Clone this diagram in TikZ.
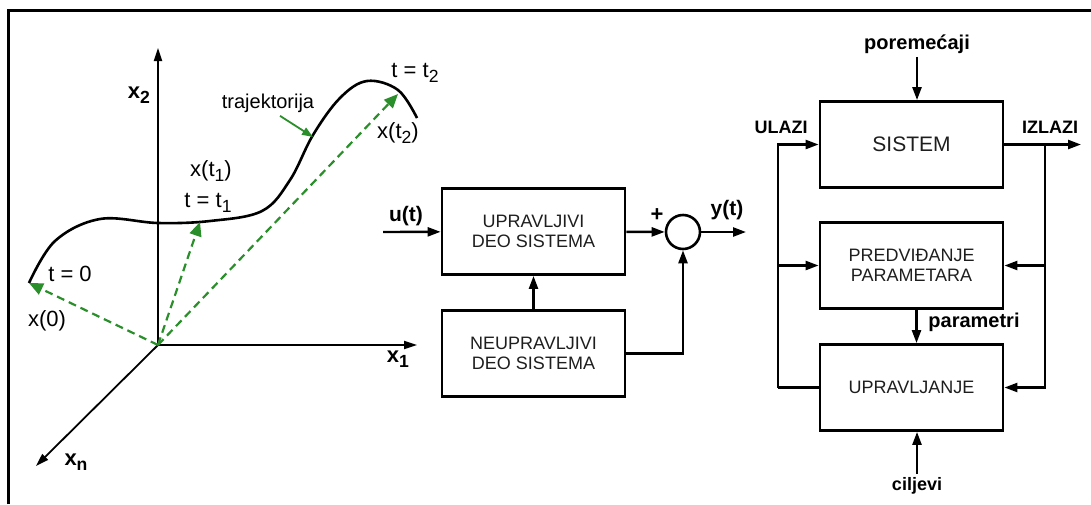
\documentclass[tikz,border=0pt]{standalone}
\usepackage{fontspec}
\usepackage{graphicx}
\setmainfont{Liberation Sans}
\usetikzlibrary{arrows.meta,positioning}
\definecolor{greenc}{HTML}{2A8F2A}
\definecolor{boxtext}{HTML}{1E1E1E}
\newcommand\indeks[1]{\raisebox{-0.45ex}{\scalebox{0.8}{#1}}}

\begin{document}
\begin{tikzpicture}[x=1pt,y=-1pt,
  blok/.style={draw, line width=2.8pt, minimum width=183pt, minimum height=86pt, inner sep=0pt,
    align=center, text=boxtext, font=\fontsize{18}{20}\selectfont},
  veza/.style={line width=2.4pt, -{Triangle[length=13pt,width=9pt]}},
  linija/.style={line width=2.4pt},
  osa/.style={line width=1.8pt, -{Triangle[length=13pt,width=8pt]}},
  oznaka/.style={font=\bfseries\fontsize{18}{20}\selectfont},
  osaoznaka/.style={font=\bfseries\fontsize{22}{24}\selectfont},
  tekst/.style={font=\fontsize{22}{24}\selectfont},
  putanja/.style={greenc, line width=2.2pt, dash pattern=on 8pt off 5pt, -{Triangle[length=14pt,width=12pt]}}]
  \useasboundingbox (0,0) rectangle (1091,504);
  \draw[line width=3pt] (8,504) -- (8,10) -- (1091,10);

  % prostor stanja
  \coordinate (O) at (158,345);
  \coordinate (e2) at (158,48);
  \coordinate (e1) at (417,345);
  \coordinate (en) at (36,466);
  \draw[osa] (O) -- (e2);
  \draw[osa] (O) -- (e1);
  \draw[osa] (O) -- (en);
  \node[osaoznaka] (x2) at (139,95) {x\indeks{2}};
  \node[osaoznaka] (x1) at (398,359) {x\indeks{1}};
  \node[osaoznaka] (xn) at (76,462) {x\indeks{n}};
  \draw[line width=2.6pt] plot[smooth, tension=0.6] coordinates {(29,283) (55,241) (100,219) (158,223)
    (210,221) (262,211) (290,180) (313,135) (340,98) (367,81) (398,90) (417,118)};
  \coordinate (p0) at (29,283);
  \coordinate (p1) at (200,222);
  \coordinate (p2) at (398,94);
  \draw[putanja] (O) -- (p0);
  \draw[putanja] (O) -- (p1);
  \draw[putanja] (O) -- (p2);
  \node[tekst] (t0) at (70,274) {t = 0};
  \node[tekst] (s0) at (47,321) {x(0)};
  \node[tekst] (s1) at (211,171) {x(t\indeks{1})};
  \node[tekst] (t1) at (208,203) {t = t\indeks{1}};
  \node[tekst] (t2) at (415,73) {t = t\indeks{2}};
  \node[tekst] (s2) at (398,133) {x(t\indeks{2})};
  \node[font=\fontsize{20}{22}\selectfont] (traj) at (268,103) {trajektorija};
  \coordinate (tc) at (313,137);
  \draw[greenc, line width=1.8pt, -{Triangle[length=11pt,width=8pt]}] ([xshift=12pt]traj.south) -- (tc);

  % upravljivi i neupravljivi deo
  \node[blok] (upr) at (533.5,231.5) {UPRAVLJIVI\\DEO SISTEMA};
  \node[blok] (neu) at (533.5,353.5) {NEUPRAVLJIVI\\DEO SISTEMA};
  \node[draw, circle, line width=2.6pt, minimum size=34pt, inner sep=0pt] (sum) at (683,232) {};
  \coordinate (uin) at (383,232);
  \coordinate (yout) at (746,232);
  \draw[veza] (uin) -- (upr);
  \draw[veza] (upr) -- (sum);
  \draw[veza] (sum) -- (yout);
  \draw[veza] (neu) -- (upr);
  \draw[veza] (neu.east) -| (sum.south);
  \node[oznaka, font=\bfseries\fontsize{21}{23}\selectfont] (u) at (406,216) {u(t)};
  \node[oznaka, font=\bfseries\fontsize{22}{24}\selectfont] (plus) at (657,215) {+};
  \node[oznaka, font=\bfseries\fontsize{21}{23}\selectfont] (y) at (727,210) {y(t)};

  % adaptivno upravljanje
  \node[blok, font=\fontsize{21}{23}\selectfont] (sys) at (911.5,144.5) {SISTEM};
  \node[blok] (pred) at (911.5,265.5) {PREDVIĐANJE\\PARAMETARA};
  \node[blok] (ctrl) at (911.5,387.5) {UPRAVLJANJE};
  \node[oznaka, font=\bfseries\fontsize{20}{22}\selectfont] (por) at (917,44) {poremećaji};
  \node[oznaka] (cilj) at (917,486) {ciljevi};
  \node[oznaka] (ul) at (781,127) {ULAZI};
  \node[oznaka] (izl) at (1050,127) {IZLAZI};
  \node[oznaka, font=\bfseries\fontsize{20}{22}\selectfont] (par) at (974,322) {parametri};
  \coordinate (izlaz) at (1081,144.5);
  \coordinate (desno) at (1045,144.5);
  \coordinate (levo) at (778,387.5);
  \draw[veza] (por.south) -- (por.south |- sys.north);
  \draw[veza] (sys) -- (izlaz);
  \draw[veza] (desno) |- (pred.east);
  \draw[veza] (desno) |- (ctrl.east);
  \draw[linija] (ctrl.west) -- (levo);
  \draw[veza] (levo) |- (sys.west);
  \draw[veza] (levo) |- (pred.west);
  \draw[veza] ([xshift=5pt]pred.south) -- ([xshift=5pt]ctrl.north);
  \draw[veza] (cilj.north) -- (cilj.north |- ctrl.south);
\end{tikzpicture}
\end{document}
